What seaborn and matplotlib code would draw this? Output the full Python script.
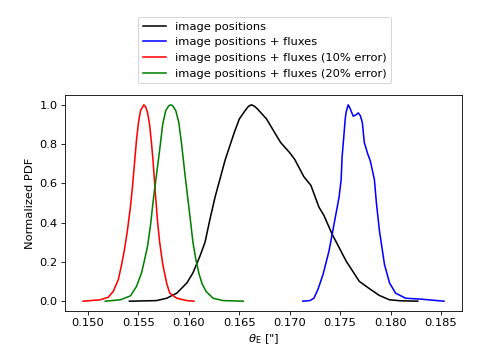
import numpy as np
import pandas as pd
import matplotlib
matplotlib.use("Agg")
import matplotlib.pyplot as plt
import seaborn as sns

# --- Data (theta_E grid, normalized PDF) ---
red_x = [0.1495, 0.1512, 0.1520, 0.1525, 0.1530, 0.1533, 0.1536, 0.1539, 0.1542,
         0.1544, 0.1546, 0.1548, 0.1550, 0.1552, 0.15553, 0.1557, 0.1559, 0.1561,
         0.1563, 0.15645, 0.1567, 0.1569, 0.1571, 0.1574, 0.1578, 0.1581, 0.1588,
         0.1598, 0.1605]
red_y = [0.0, 0.007, 0.02, 0.05, 0.11, 0.18, 0.26, 0.36, 0.48,
         0.58, 0.70, 0.82, 0.91, 0.97, 1.0, 0.99, 0.96, 0.90,
         0.80, 0.71, 0.53, 0.40, 0.30, 0.19, 0.09, 0.041, 0.015,
         0.003, 0.0]

green_x = [0.1517, 0.1532, 0.1542, 0.1548, 0.1553, 0.1556, 0.1559, 0.1562, 0.1565,
           0.1568, 0.1571, 0.1574, 0.1577, 0.1580, 0.1582, 0.1584, 0.1587, 0.1590,
           0.1593, 0.1596, 0.1599, 0.1602, 0.1604, 0.1607, 0.1610, 0.1613, 0.1617,
           0.1624, 0.1634, 0.1654]
green_y = [0.0, 0.007, 0.027, 0.075, 0.144, 0.21, 0.28, 0.39, 0.53,
           0.65, 0.77, 0.90, 0.97, 0.995, 1.0, 0.995, 0.97, 0.91,
           0.79, 0.65, 0.52, 0.39, 0.30, 0.21, 0.14, 0.09, 0.05,
           0.015, 0.003, 0.0]

black_x = [0.1541, 0.1568, 0.1578, 0.1588, 0.1598, 0.1604, 0.1611, 0.1616, 0.1621,
           0.1626, 0.1636, 0.1645, 0.1650, 0.1655, 0.1659, 0.1662, 0.1665, 0.1668,
           0.1677, 0.1685, 0.1691, 0.1700, 0.1705, 0.1714, 0.1721, 0.1729, 0.1734,
           0.1742, 0.1756, 0.1769, 0.1779, 0.1789, 0.1799, 0.1810, 0.1827]
black_y = [0.0, 0.003, 0.015, 0.041, 0.093, 0.144, 0.23, 0.30, 0.42,
           0.531, 0.72, 0.859, 0.928, 0.965, 0.992, 1.0, 0.993, 0.979,
           0.928, 0.859, 0.808, 0.756, 0.722, 0.634, 0.59, 0.479, 0.436,
           0.342, 0.204, 0.101, 0.064, 0.029, 0.007, 0.002, 0.0]

blue_x = [0.1713, 0.1720, 0.1724, 0.1728, 0.1733, 0.1739, 0.1744, 0.1749, 0.1751,
          0.1752, 0.1754, 0.1755, 0.1756, 0.1758, 0.1760, 0.1763, 0.1766, 0.1768,
          0.1770, 0.1772, 0.1774, 0.1777, 0.1780, 0.1784, 0.1786, 0.1789, 0.1794,
          0.1799, 0.1805, 0.1815, 0.1831, 0.1853]
blue_y = [0.0, 0.003, 0.015, 0.06, 0.135, 0.256, 0.393, 0.531, 0.619,
          0.737, 0.86, 0.926, 0.964, 1.0, 0.98, 0.942, 0.95, 0.959,
          0.945, 0.911, 0.808, 0.756, 0.713, 0.619, 0.50, 0.359, 0.187,
          0.093, 0.041, 0.015, 0.01, 0.0]

labels = ["image positions", "image positions + fluxes",
          "image positions + fluxes (10% error)", "image positions + fluxes (20% error)"]
colors = ["black", "blue", "red", "green"]

frames = []
for lab, xs, ys in zip(labels, [black_x, blue_x, red_x, green_x],
                       [black_y, blue_y, red_y, green_y]):
    frames.append(pd.DataFrame({"theta": xs, "pdf": ys, "model": lab}))
df = pd.concat(frames, ignore_index=True)

# --- Plot ---
plt.rcParams["font.size"] = 11
fig = plt.figure(figsize=(479 / 75, 354 / 75), dpi=75)
ax = fig.add_axes([65 / 479, 1 - 311 / 354, 397 / 479, 216 / 354])
sns.lineplot(data=df, x="theta", y="pdf", hue="model", hue_order=labels,
             palette=colors, sort=False, linewidth=1.5, ax=ax)

ax.set_xticks([0.150, 0.155, 0.160, 0.165, 0.170, 0.175, 0.180, 0.185])
ax.set_xlabel(r'$\theta_{\rm E}$ ["]')
ax.set_ylabel("Normalized PDF")
ax.legend(loc="upper left", bbox_to_anchor=(138 / 479, 1 - 17 / 354),
          bbox_transform=fig.transFigure, borderaxespad=0, title=None)

fig.savefig("out.png", dpi=75)
